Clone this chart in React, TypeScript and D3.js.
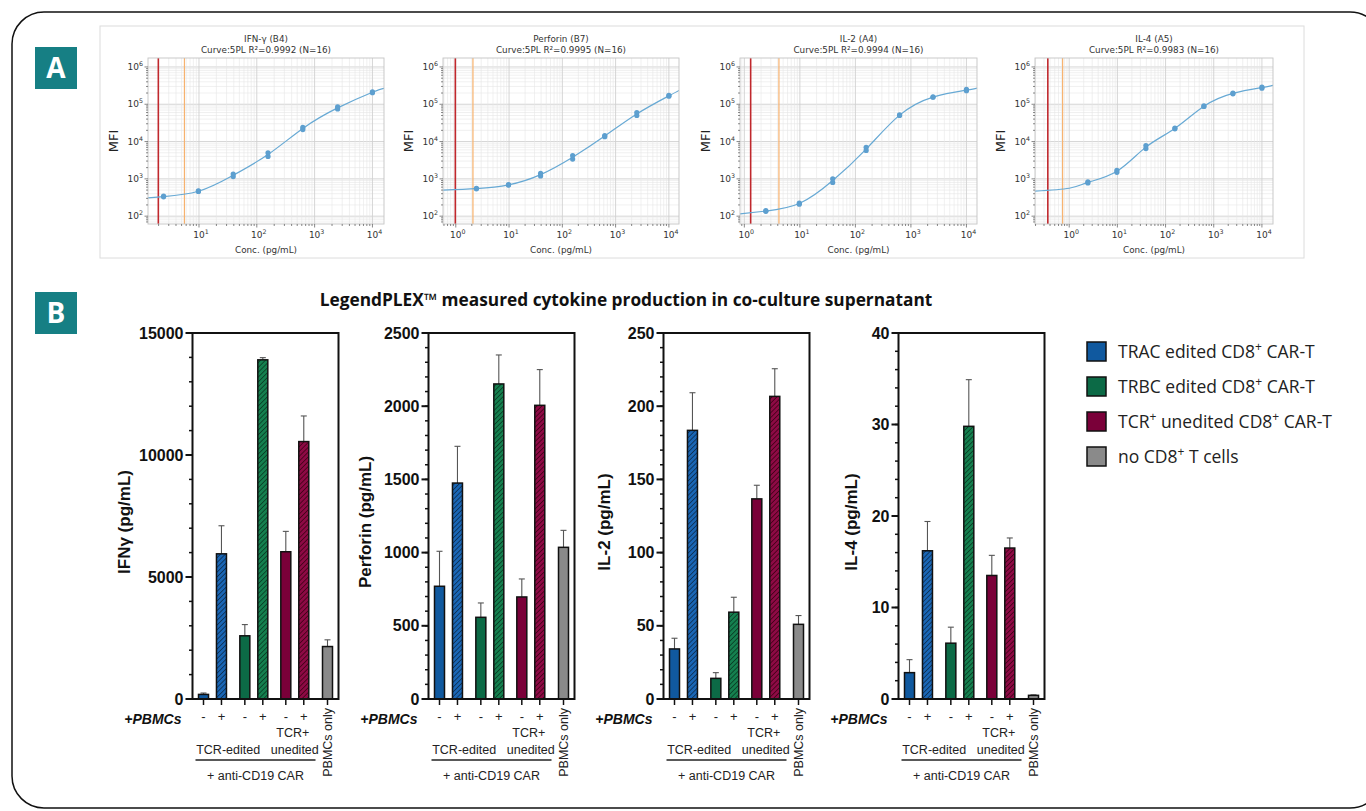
import React from "react";
import * as d3 from "d3";

// ---------------- Panel A: standard curves ----------------
const stdConc = [2.44, 9.77, 39.06, 156.25, 625, 2500, 10000];
const ifngRep1 = [330, 460, 1150, 4000, 21000, 75000, 205000];
const ifngRep2 = [345, 475, 1350, 5000, 24000, 85000, 215000];
const perfRep1 = [540, 680, 1200, 3400, 13500, 50000, 165000];
const perfRep2 = [560, 700, 1400, 4200, 14500, 60000, 172000];
const il2Rep1 = [135, 210, 800, 5800, 50000, 154000, 230000];
const il2Rep2 = [140, 225, 1000, 7000, 52000, 158000, 250000];
const il4Rep1 = [780, 1500, 6500, 22000, 87000, 190000, 270000];
const il4Rep2 = [830, 1700, 7800, 23000, 90000, 200000, 290000];

const ifngCurveConc = [1.31, 2.44, 9.77, 39.06, 156.25, 625, 2500, 10000, 15850];
const ifngCurveMfi = [310, 335, 465, 1250, 4500, 22500, 80000, 210000, 268000];
const perfCurveConc = [0.575, 2.44, 9.77, 39.06, 156.25, 625, 2500, 10000, 15500];
const perfCurveMfi = [500, 550, 690, 1300, 3800, 14000, 55000, 168000, 235000];
const il2CurveConc = [0.836, 2.44, 9.77, 39.06, 156.25, 625, 2500, 10000, 15500];
const il2CurveMfi = [115, 137, 218, 900, 6300, 51000, 156000, 240000, 272000];
const il4CurveConc = [0.195, 1, 2.44, 9.77, 39.06, 156.25, 625, 2500, 10000, 17000];
const il4CurveMfi = [470, 560, 805, 1600, 7100, 22500, 88000, 195000, 280000, 320000];

const stdTitles = ["IFN-γ (B4)", "Perforin (B7)", "IL-2 (A4)", "IL-4 (A5)"];
const stdR2 = ["0.9992", "0.9995", "0.9994", "0.9983"];
const stdN = [16, 16, 16, 16];
const lodRed = [1.98, 0.98, 1.3, 0.36];
const lodOrange = [5.6, 2.1, 4.2, 0.73];

// ---------------- Panel B: cytokine bars ----------------
const barSigns = ["-", "+", "-", "+", "-", "+"];
const barSeries = [0, 0, 1, 1, 2, 2, 3];
const barWithPBMC = [false, true, false, true, false, true, false];

const ifngMean = [188, 5950, 2590, 13900, 6035, 10550, 2150];
const ifngErr = [57, 1150, 460, 90, 835, 1050, 275];
const perfMean = [770, 1475, 558, 2152, 697, 2006, 1036];
const perfErr = [239, 251, 98, 198, 123, 244, 116];
const il2Mean = [34.2, 183.5, 14.1, 59.3, 136.7, 206.7, 51];
const il2Err = [7.3, 25.7, 3.9, 10.2, 9.3, 18.9, 6];
const il4Mean = [2.88, 16.2, 6.1, 29.8, 13.5, 16.5, 0.4];
const il4Err = [1.42, 3.2, 1.75, 5.1, 2.2, 1.1, 0.05];

const cytoTitles = ["IFNγ (pg/mL)", "Perforin (pg/mL)", "IL-2 (pg/mL)", "IL-4 (pg/mL)"];
const cytoMax = [15000, 2500, 250, 40];
const cytoMajor = [5000, 500, 50, 10];
const cytoMinor = [1000, 100, 10, 2];

const seriesLabels = [
  [["TRAC edited CD8", false], ["+", true], [" CAR-T", false]],
  [["TRBC edited CD8", false], ["+", true], [" CAR-T", false]],
  [["TCR", false], ["+", true], [" unedited CD8", false], ["+", true], [" CAR-T", false]],
  [["no CD8", false], ["+", true], [" T cells", false]],
] as [string, boolean][][];
const seriesColors = ["#10599f", "#0c6a46", "#7a0039", "#8a8a8a"];
const hatchBase = ["#1a66b5", "#15804f", "#8e0a45"];
const hatchLine = ["#0a2540", "#06301d", "#33000f"];

const panelTitle = "LegendPLEX™ measured cytokine production in co-culture supernatant";

// ---------------- layout ----------------
const layoutA = [
  { x0: 148, x1: 384, d0: 0.118, d1: 4.2 },
  { x0: 443, x1: 679, d0: -0.24, d1: 4.19 },
  { x0: 740, x1: 977, d0: -0.078, d1: 4.19 },
  { x0: 1035, x1: 1273, d0: -0.71, d1: 4.23 },
];
const A_TOP = 58, A_BOT = 224;
const BX = [192.5, 428.5, 663.5, 898.5];
const B_W = 146, B_TOP = 333, B_BOT = 699;
const B_TITLE_OFF = [-63, -58, -54, -42];
const SLOTS = [0, 1, 2.3, 3.3, 4.58, 5.58, 6.9];

const fontA = "DejaVu Sans, sans-serif";
const fontB = "Liberation Sans, Arial, sans-serif";
const fontC = "Open Sans, sans-serif";

const repsA = [
  [ifngRep1, ifngRep2],
  [perfRep1, perfRep2],
  [il2Rep1, il2Rep2],
  [il4Rep1, il4Rep2],
];
const curvesA = [
  [ifngCurveConc, ifngCurveMfi],
  [perfCurveConc, perfCurveMfi],
  [il2CurveConc, il2CurveMfi],
  [il4CurveConc, il4CurveMfi],
];
const meansB = [ifngMean, perfMean, il2Mean, il4Mean];
const errsB = [ifngErr, perfErr, il2Err, il4Err];

function isPow10(v: number) {
  const l = Math.log10(v);
  return Math.abs(l - Math.round(l)) < 1e-9;
}

function StdPanel({ i }: { i: number }) {
  const L = layoutA[i];
  const x = d3.scaleLog().domain([10 ** L.d0, 10 ** L.d1]).range([L.x0, L.x1]);
  const y = d3.scaleLog().domain([10 ** 1.79, 10 ** 6.24]).range([A_BOT, A_TOP]);
  const xt = x.ticks();
  const yt = y.ticks();
  const cx = (L.x0 + L.x1) / 2;
  const pts = curvesA[i][0].map((c, k) => [c, curvesA[i][1][k]] as [number, number]);
  const path = d3
    .line<[number, number]>()
    .x((d) => x(d[0]))
    .y((d) => y(d[1]))
    .curve(d3.curveNatural)(pts);
  const clipId = `clipA${i}`;
  return (
    <g>
      <defs>
        <clipPath id={clipId}>
          <rect x={L.x0} y={A_TOP} width={L.x1 - L.x0} height={A_BOT - A_TOP} />
        </clipPath>
      </defs>
      <rect x={L.x0} y={A_TOP} width={L.x1 - L.x0} height={A_BOT - A_TOP} fill="#fff" />
      <g clipPath={`url(#${clipId})`}>
        {yt.map((v, k) => (
          <line key={"yg" + k} x1={L.x0} x2={L.x1} y1={y(v)} y2={y(v)}
            stroke={isPow10(v) ? "#d0d0d0" : "#e6e6e6"} strokeWidth={isPow10(v) ? 0.9 : 0.6} />
        ))}
        {xt.map((v, k) => (
          <line key={"xg" + k} y1={A_TOP} y2={A_BOT} x1={x(v)} x2={x(v)}
            stroke={isPow10(v) ? "#d0d0d0" : "#e6e6e6"} strokeWidth={isPow10(v) ? 0.9 : 0.6} />
        ))}
        <line x1={x(lodRed[i])} x2={x(lodRed[i])} y1={A_TOP} y2={A_BOT} stroke="#c0282d" strokeWidth={1.6} />
        <line x1={x(lodOrange[i])} x2={x(lodOrange[i])} y1={A_TOP} y2={A_BOT} stroke="#f7b26e" strokeWidth={1.2} />
        <path d={path || ""} fill="none" stroke="#67a9d4" strokeWidth={1.2} />
        {stdConc.map((c, k) =>
          repsA[i].map((r, j) => (
            <circle key={`p${k}-${j}`} cx={x(c)} cy={y(r[k])} r={2.6} fill="#5d9fcf" />
          ))
        )}
      </g>
      <rect x={L.x0} y={A_TOP} width={L.x1 - L.x0} height={A_BOT - A_TOP} fill="none" stroke="#c4c4c4" strokeWidth={0.9} />
      {yt.map((v, k) => (
        <line key={"yt" + k} x1={L.x0} x2={L.x0 - (isPow10(v) ? 3.5 : 2)} y1={y(v)} y2={y(v)} stroke="#555" strokeWidth={0.7} />
      ))}
      {xt.map((v, k) => (
        <line key={"xt" + k} y1={A_BOT} y2={A_BOT + (isPow10(v) ? 3.5 : 2)} x1={x(v)} x2={x(v)} stroke="#555" strokeWidth={0.7} />
      ))}
      {yt.filter(isPow10).map((v, k) => (
        <text key={"yl" + k} x={L.x0 - 5} y={y(v) + 3} textAnchor="end" fontFamily={fontA} fontSize={9} fill="#333">
          10<tspan dy={-4} fontSize={6.3}>{Math.round(Math.log10(v))}</tspan>
        </text>
      ))}
      {xt.filter(isPow10).map((v, k) => (
        <text key={"xl" + k} x={x(v) + 2} y={A_BOT + 14} textAnchor="middle" fontFamily={fontA} fontSize={9} fill="#333">
          10<tspan dy={-4} fontSize={6.3}>{Math.round(Math.log10(v))}</tspan>
        </text>
      ))}
      <text x={cx} y={42} textAnchor="middle" fontFamily={fontA} fontSize={8.8} fill="#333">{stdTitles[i]}</text>
      <text x={cx} y={52.5} textAnchor="middle" fontFamily={fontA} fontSize={8.8} fill="#333">
        {`Curve:5PL R²=${stdR2[i]} (N=${stdN[i]})`}
      </text>
      <text x={cx} y={253} textAnchor="middle" fontFamily={fontA} fontSize={8.8} fill="#333">Conc. (pg/mL)</text>
      <text transform={`translate(${L.x0 - 30},${(A_TOP + A_BOT) / 2}) rotate(-90)`} textAnchor="middle"
        fontFamily={fontA} fontSize={13} fill="#222">MFI</text>
    </g>
  );
}

function BarPanel({ i }: { i: number }) {
  const left = BX[i];
  const y = d3.scaleLinear().domain([0, cytoMax[i]]).range([B_BOT, B_TOP]);
  const xs = d3.scaleLinear().domain([0, 6.9]).range([left + 11, left + 135]);
  const bx = SLOTS.map((s) => xs(s));
  const bw = 10;
  const minor = d3.range(0, cytoMax[i] + cytoMinor[i] / 2, cytoMinor[i]);
  const major = d3.range(0, cytoMax[i] + cytoMajor[i] / 2, cytoMajor[i]);
  const means = meansB[i];
  const errs = errsB[i];
  return (
    <g>
      {means.map((m, k) => {
        const s = barSeries[k];
        const fill = barWithPBMC[k] ? `url(#hatch${s})` : seriesColors[s];
        return (
          <g key={"b" + k}>
            <line x1={bx[k]} x2={bx[k]} y1={y(m)} y2={y(m + errs[k])} stroke="#555" strokeWidth={1.1} />
            <line x1={bx[k] - 3} x2={bx[k] + 3} y1={y(m + errs[k])} y2={y(m + errs[k])} stroke="#555" strokeWidth={1.1} />
            <rect x={bx[k] - bw / 2} y={y(m)} width={bw} height={B_BOT - y(m)} fill={fill} stroke="#111" strokeWidth={1.5} />
          </g>
        );
      })}
      <rect x={left} y={B_TOP} width={B_W} height={B_BOT - B_TOP} fill="none" stroke="#111" strokeWidth={2} />
      {minor.map((v, k) => (
        <line key={"mn" + k} x1={left} x2={left - 3.5} y1={y(v)} y2={y(v)} stroke="#111" strokeWidth={1.5} />
      ))}
      {major.map((v, k) => (
        <g key={"mj" + k}>
          <line x1={left} x2={left - 7} y1={y(v)} y2={y(v)} stroke="#111" strokeWidth={2} />
          <text x={left - 9} y={y(v) + 5.5} textAnchor="end" fontFamily={fontB} fontWeight="bold" fontSize={16} fill="#111">
            {v}
          </text>
        </g>
      ))}
      {bx.map((v, k) => (
        <line key={"xt" + k} x1={v} x2={v} y1={B_BOT} y2={B_BOT + 6} stroke="#111" strokeWidth={1.5} />
      ))}
      <text transform={`translate(${left + B_TITLE_OFF[i]},${(B_TOP + B_BOT) / 2 + 6}) rotate(-90)`} textAnchor="middle"
        fontFamily={fontB} fontWeight="bold" fontSize={17} fill="#111">{cytoTitles[i]}</text>
      <text x={left - 11} y={724} textAnchor="end" fontFamily={fontB} fontWeight="bold" fontStyle="italic" fontSize={14} fill="#111">+PBMCs</text>
      {barSigns.map((s, k) => (
        <text key={"s" + k} x={bx[k]} y={721} textAnchor="middle" fontFamily={fontB} fontSize={13} fill="#222">{s}</text>
      ))}
      <text x={(bx[4] + bx[5]) / 2 - 2} y={737} textAnchor="middle" fontFamily={fontB} fontSize={12.5} fill="#222">TCR+</text>
      <text x={(bx[0] + bx[3]) / 2 - 5} y={754} textAnchor="middle" fontFamily={fontB} fontSize={12.5} fill="#222">TCR-edited</text>
      <text x={(bx[4] + bx[5]) / 2} y={754} textAnchor="middle" fontFamily={fontB} fontSize={12.5} fill="#222">unedited</text>
      <line x1={left + 3} x2={left + 123} y1={760} y2={760} stroke="#222" strokeWidth={1.3} />
      <text x={left + 63} y={780} textAnchor="middle" fontFamily={fontB} fontSize={12.5} fill="#222">+ anti-CD19 CAR</text>
      <text transform={`translate(${bx[6] + 4.5},708) rotate(-90)`} textAnchor="end" fontFamily={fontB} fontSize={12.5} fill="#222">PBMCs only</text>
    </g>
  );
}

export default function App() {
  return (
    <svg width={1366} height={811} style={{ position: "absolute", left: 0, top: 0, background: "#fff" }}>
      <defs>
        {hatchBase.map((c, k) => (
          <pattern key={"h" + k} id={`hatch${k}`} patternUnits="userSpaceOnUse" width={3.4} height={3.4} patternTransform="rotate(45)">
            <rect width={3.4} height={3.4} fill={c} />
            <line x1={0} y1={0} x2={0} y2={3.4} stroke={hatchLine[k]} strokeWidth={1.4} />
          </pattern>
        ))}
      </defs>
      <rect x={0} y={0} width={1366} height={811} fill="#fff" />
      <rect x={12} y={12} width={1370} height={796} rx={32} ry={32} fill="none" stroke="#111" strokeWidth={1.5} />
      <rect x={100} y={26} width={1204} height={232} fill="#fff" stroke="#dcdcdc" strokeWidth={1} />
      <rect x={35} y={47} width={42} height={42} fill="#167f84" />
      <text x={56} y={78} textAnchor="middle" fontFamily={fontC} fontWeight="bold" fontSize={28} fill="#fff">A</text>
      <rect x={35} y={292} width={42} height={42} fill="#167f84" />
      <text x={56} y={323} textAnchor="middle" fontFamily={fontC} fontWeight="bold" fontSize={28} fill="#fff">B</text>

      {layoutA.map((_, i) => (
        <StdPanel key={"A" + i} i={i} />
      ))}

      <text x={626} y={306} textAnchor="middle" fontFamily={fontC} fontWeight="bold" fontSize={17.3} fill="#111">{panelTitle}</text>

      {BX.map((_, i) => (
        <BarPanel key={"B" + i} i={i} />
      ))}

      {seriesLabels.map((parts, k) => (
        <g key={"lg" + k}>
          <rect x={1087} y={342 + k * 35} width={19} height={19} fill={seriesColors[k]} stroke="#111" strokeWidth={1.5} />
          <text x={1118} y={358 + k * 35} fontFamily={fontC} fontSize={17.5} fill="#222">
            {parts.map(([t, sup], j) => (
              <tspan key={j} dy={sup ? -7 : j > 0 && parts[j - 1][1] ? 7 : 0} fontSize={sup ? 12 : 17.5}>{t}</tspan>
            ))}
          </text>
        </g>
      ))}
    </svg>
  );
}
